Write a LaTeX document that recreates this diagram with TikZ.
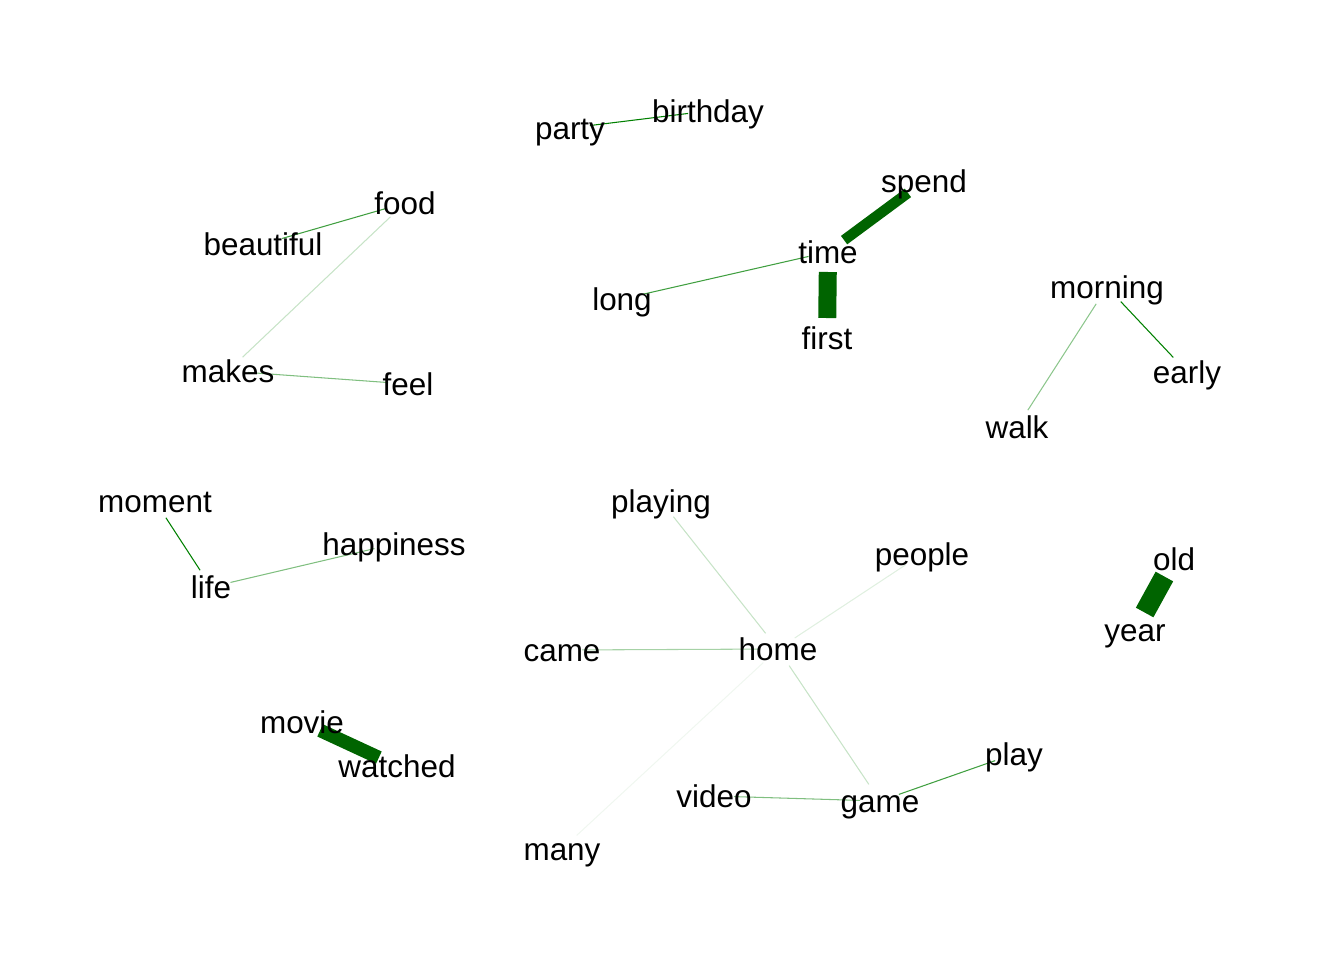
\PassOptionsToPackage{dvipsnames,svgnames}{xcolor}
\documentclass[tikz,border=0pt]{standalone}
\usepackage{fontspec}
\setmainfont{Liberation Sans}
\usetikzlibrary{backgrounds}

\begin{document}
\begin{tikzpicture}[
  x=0.02cm, y=-0.02cm,
  font=\fontsize{17.9}{20}\selectfont,
  word/.style={
    inner sep=0pt,
    text height=1.4em,
    text depth=0.1em
  },
  link/.style={
    draw=#1,
    line width=0.6pt,
    shorten <=0.4cm,
    shorten >=0.4cm
  },
  link/.default=Green,
  heavy/.style={
    draw=DarkGreen,
    line width=#1,
    shorten <=0.4cm,
    shorten >=0.4cm
  }
]
  \useasboundingbox (0,0) rectangle (1344,960);

  % Words, placed at their layout positions (pixels of the 1344x960 frame)
  \node[word] (party) at (570,128) {party};
  \node[word] (birthday) at (708,111) {birthday};
  \node[word] (spend) at (924,181) {spend};
  \node[word] (time) at (828,252) {time};
  \node[word] (long) at (622,299) {long};
  \node[word] (first) at (827,338) {first};
  \node[word] (food) at (405,203) {food};
  \node[word] (beautiful) at (263,244) {beautiful};
  \node[word] (makes) at (228,371) {makes};
  \node[word] (feel) at (408,384) {feel};
  \node[word] (morning) at (1107,287) {morning};
  \node[word] (early) at (1187,372) {early};
  \node[word] (walk) at (1017,427) {walk};
  \node[word] (moment) at (155,501) {moment};
  \node[word] (happiness) at (394,544) {happiness};
  \node[word] (life) at (211,587) {life};
  \node[word] (playing) at (661,501) {playing};
  \node[word] (people) at (922,554) {people};
  \node[word] (old) at (1174,559) {old};
  \node[word] (year) at (1135,630) {year};
  \node[word] (came) at (562,650) {came};
  \node[word] (home) at (778,649) {home};
  \node[word] (movie) at (302,722) {movie};
  \node[word] (watched) at (397,766) {watched};
  \node[word] (play) at (1014,754) {play};
  \node[word] (video) at (714,796) {video};
  \node[word] (game) at (880,801) {game};
  \node[word] (many) at (562,849) {many};

  % Edges go under the words; colour and width follow the weight
  \begin{scope}[on background layer]
    \draw[heavy=0.21cm] (spend.center) -- (time.center);
    \draw[heavy=0.36cm] (time.center) -- (first.center);
    \draw[heavy=0.27cm] (movie.center) -- (watched.center);
    \draw[heavy=0.4cm] (old.center) -- (year.center);

    \draw[link] (party.center) -- (birthday.center);
    \draw[link] (moment.center) -- (life.center);
    \draw[link] (morning.center) -- (early.center);
    \draw[link=Green!75] (long.center) -- (time.center);
    \draw[link=Green!75] (beautiful.center) -- (food.center);
    \draw[link=Green!75] (game.center) -- (play.center);
    \draw[link=Green!50] (makes.center) -- (feel.center);
    \draw[link=Green!50] (life.center) -- (happiness.center);
    \draw[link=Green!50] (video.center) -- (game.center);
    \draw[link=Green!45] (morning.center) -- (walk.center);
    \draw[link=Green!35] (came.center) -- (home.center);
    \draw[link=Green!22] (playing.center) -- (home.center);
    \draw[link=Green!22] (home.center) -- (game.center);
    \draw[link=Green!22] (makes.center) -- (food.center);
    \draw[link=Green!12] (home.center) -- (people.center);
    \draw[link=Green!6] (home.center) -- (many.center);
  \end{scope}
\end{tikzpicture}
\end{document}
